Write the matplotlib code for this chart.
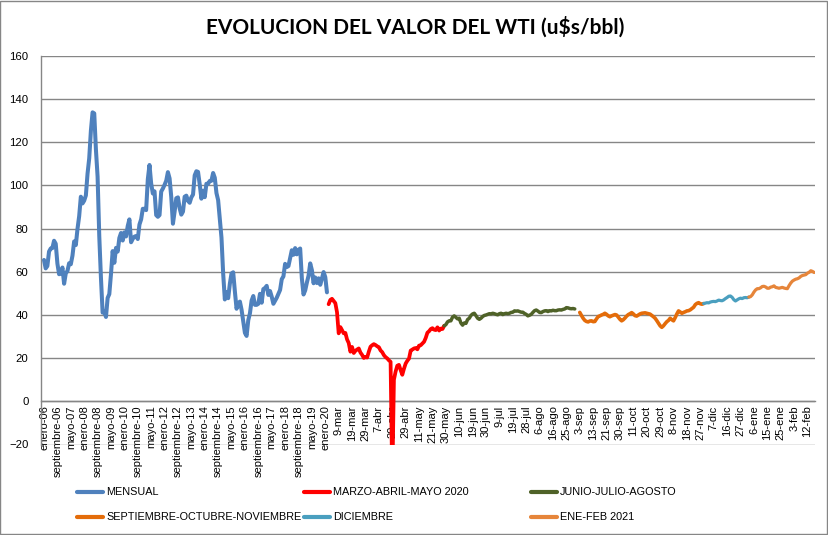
import matplotlib
matplotlib.use('Agg')
import matplotlib.pyplot as plt
from matplotlib.lines import Line2D
from matplotlib.patches import Rectangle
import numpy as np

# ---------------- DATA ----------------
title = "EVOLUCION DEL VALOR DEL WTI (u$s/bbl)"

# Monthly WTI (enero-06 .. febrero-20)
mensual = [
    65.5, 61.6, 62.7, 69.4, 70.8, 71.0, 74.4, 73.0, 63.8, 58.9, 59.1, 62.0,
    54.5, 59.3, 60.4, 64.0, 63.5, 67.5, 74.1, 72.4, 79.9, 85.8, 94.8, 91.7,
    93.0, 95.4, 105.5, 112.6, 125.4, 133.9, 133.4, 116.7, 104.1, 76.6, 57.3, 41.1,
    41.7, 39.1, 47.9, 49.7, 59.0, 69.6, 64.2, 71.1, 69.4, 75.7, 78.0, 74.5,
    78.3, 76.4, 81.2, 84.3, 73.7, 75.3, 76.3, 76.6, 75.2, 81.9, 84.3, 89.2,
    89.2, 88.6, 102.9, 109.5, 100.9, 96.3, 97.3, 86.3, 85.5, 86.3, 97.2, 98.6,
    100.3, 102.2, 106.2, 103.3, 94.7, 82.3, 87.9, 94.1, 94.5, 89.5, 86.5, 87.9,
    94.8, 95.3, 92.9, 92.0, 94.5, 95.8, 104.7, 106.6, 106.3, 100.5, 93.9, 97.6,
    94.6, 100.8, 100.8, 102.1, 102.2, 105.8, 103.6, 96.5, 93.2, 84.4, 75.8, 59.3,
    47.2, 50.6, 47.8, 54.5, 59.3, 59.8, 50.9, 42.9, 45.5, 46.2, 42.4, 37.2,
    31.7, 30.3, 37.6, 40.8, 46.7, 48.8, 44.7, 44.7, 45.2, 49.8, 45.7, 52.0,
    52.5, 53.5, 49.3, 51.1, 48.5, 45.2, 46.6, 48.0, 49.8, 51.6, 56.6, 57.9,
    63.7, 62.2, 62.7, 66.3, 70.0, 67.9, 71.0, 68.1, 70.2, 70.8, 57.0, 49.5,
    51.4, 55.0, 58.2, 63.9, 60.8, 54.7, 57.4, 54.8, 57.0, 54.0, 57.0, 59.9,
    57.5, 50.5,
]

marzo_abril_mayo = [
    45.0, 47.0, 47.5, 46.5, 45.5, 41.3, 31.5, 34.4, 33.0, 31.5,
    31.7, 28.7, 27.0, 23.0, 25.2, 22.4, 23.4, 24.0, 24.5, 22.6,
    21.5, 20.1, 20.5, 20.3, 23.0, 25.3, 26.0, 26.5, 26.1, 25.5,
    25.1, 23.6, 22.8, 21.4, 20.5, 19.9, 19.0, 18.3, -37.6, 10.0,
    13.8, 16.5, 16.9, 14.5, 12.3, 15.1, 17.5, 18.8, 19.8, 23.5,
    24.0, 24.5, 24.7, 24.1, 25.8, 26.0, 26.8, 27.6, 29.4, 31.8,
    32.5, 33.5, 33.9, 33.2, 33.0, 34.3, 32.8, 33.7, 33.5, 35.0,
]

junio_julio_agosto = [
    35.0, 35.5, 36.8, 37.3, 37.3, 39.0, 39.6, 38.9, 38.2, 38.5,
    36.3, 35.3, 36.3, 36.1, 37.9, 38.5, 39.8, 40.5, 40.8, 39.7,
    38.5, 38.0, 38.5, 39.3, 39.8, 40.0, 40.3, 40.6, 40.5, 40.8,
    40.6, 40.3, 40.1, 40.6, 40.8, 40.2, 40.6, 40.8, 40.6, 40.8,
    41.2, 41.3, 41.9, 41.8, 41.9, 41.6, 41.3, 41.3, 40.7, 40.3,
    39.6, 39.9, 40.3, 41.2, 42.0, 42.3, 41.8, 41.2, 41.1, 41.6,
    41.9, 42.0, 41.6, 42.0, 41.9, 42.2, 42.0, 42.0, 42.3, 42.4,
    42.3, 42.6, 42.8, 43.4, 43.3, 43.0, 42.9, 43.0, 42.8,
]

sep_oct_nov = [
    41.2, 39.8, 38.5, 37.5, 37.0, 36.8, 37.2, 37.3, 36.9, 37.0,
    38.2, 39.3, 39.6, 40.0, 40.3, 40.8, 40.3, 39.6, 39.2, 39.6,
    39.9, 40.2, 40.0, 39.0, 38.0, 37.3, 37.8, 38.6, 39.5, 40.2,
    40.6, 41.1, 40.5, 39.7, 39.5, 40.0, 40.5, 40.8, 40.9, 41.0,
    40.8, 40.6, 40.4, 39.8, 39.2, 38.5, 37.4, 36.2, 35.0, 34.3,
    35.0, 36.0, 36.9, 37.5, 38.5, 37.8, 37.3, 38.8, 40.5, 41.9,
    41.4, 40.8, 41.2, 41.5, 41.9, 42.0, 42.4, 43.0, 43.6, 44.8,
    45.4, 45.7, 45.2, 45.0, 45.3,
]

diciembre = [
    45.3, 45.5, 45.7, 45.6, 46.0, 46.2, 46.3, 46.2, 46.5, 46.9,
    46.7, 46.6, 47.0, 47.6, 48.1, 48.7, 48.8, 48.2, 47.1, 46.5,
    47.0, 47.5, 47.8, 47.6, 48.0, 48.1, 48.0, 48.3,
]

ene_feb_2021 = [
    48.3, 48.5, 49.3, 50.6, 51.6, 52.2, 52.2, 52.6, 53.2, 53.3,
    53.0, 52.4, 52.4, 52.9, 53.1, 53.5, 52.8, 52.6, 52.4, 52.6,
    52.8, 52.5, 52.3, 52.2, 53.6, 54.8, 55.7, 56.2, 56.6, 56.8,
    57.2, 57.9, 58.3, 58.5, 58.7, 59.4, 59.8, 60.5, 60.2, 59.7,
]

# first category index of each series on the shared category axis
series_start = [0, 170, 239, 320, 394, 421]

series_names = ["MENSUAL", "MARZO-ABRIL-MAYO 2020", "JUNIO-JULIO-AGOSTO",
                "SEPTIEMBRE-OCTUBRE-NOVIEMBRE", "DICIEMBRE", "ENE-FEB 2021"]

# category labels shown (every 8th category)
tick_labels = [
    "enero-06", "septiembre-06", "mayo-07", "enero-08", "septiembre-08", "mayo-09",
    "enero-10", "septiembre-10", "mayo-11", "enero-12", "septiembre-12", "mayo-13",
    "enero-14", "septiembre-14", "mayo-15", "enero-16", "septiembre-16", "mayo-17",
    "enero-18", "septiembre-18", "mayo-19", "enero-20",
    "9-mar", "19-mar", "29-mar", "7-abr", "20-abr", "29-abr", "11-may", "21-may",
    "30-may", "10-jun", "19-jun", "30-jun", "9-jul", "19-jul", "28-jul", "6-ago",
    "16-ago", "25-ago", "3-sep", "13-sep", "21-sep", "30-sep", "11-oct", "20-oct",
    "29-oct", "8-nov", "18-nov", "27-nov", "7-dic", "16-dic", "27-dic", "6-ene",
    "15-ene", "25-ene", "3-feb", "12-feb",
]
label_every = 8

# ---------------- STYLE ----------------
colors = ["#4F81BD", "#FF0000", "#4F6228", "#E46C0A", "#4A9FBF", "#E6853A"]
widths = [2.9, 2.7, 2.5, 2.6, 2.3, 2.3]
FONT = "Liberation Sans"

W, H = 829, 535
fig = plt.figure(figsize=(W / 100, H / 100), dpi=100)
ax = fig.add_axes([41 / W, 1 - 444.5 / H, (815 - 41) / W, (444.5 - 56) / H])

all_series = [mensual, marzo_abril_mayo, junio_julio_agosto, sep_oct_nov, diciembre, ene_feb_2021]
for vals, start, col, lw in zip(all_series, series_start, colors, widths):
    x = start + np.arange(len(vals))
    ax.plot(x, vals, color=col, lw=lw, solid_joinstyle='round', solid_capstyle='round', zorder=3)

for s in ['top', 'right']:
    ax.spines[s].set_visible(False)
ax.spines['left'].set_color('#868686')
ax.spines['left'].set_linewidth(1.0)
ax.spines['bottom'].set_position(('data', 0))
ax.spines['bottom'].set_color('#868686')
ax.spines['bottom'].set_linewidth(1.0)

ax.set_ylim(-20, 160)
ax.set_yticks(np.arange(-20, 161, 20))
ax.set_xlim(-1.8, 460.5)
ax.set_xticks(np.arange(len(tick_labels)) * label_every)
ax.set_xticklabels(tick_labels, rotation=90, fontsize=8.0, family=FONT,
                   ha='center', va='top')
ax.set_axisbelow(True)
ax.grid(axis='y', color='#868686', lw=1.0)
ax.grid(axis='x', visible=False)

ax.tick_params(axis='x', length=0, pad=3)
ax.tick_params(axis='y', length=0, pad=9, labelsize=8.2)
for t in ax.get_yticklabels():
    t.set_family(FONT)

fig.text(415 / W, 1 - 27 / H, title, ha='center', va='center',
         fontsize=15, fontweight='bold', family='Lato')

# legend: 3 columns x 2 rows below the plot
col_x = [77, 304, 531]
row_y = [492, 517]
for k, (name, col) in enumerate(zip(series_names, colors)):
    c, r = k % 3, k // 3
    x0 = col_x[c]
    y0 = row_y[r]
    fig.add_artist(Line2D([x0 / W, (x0 + 26) / W], [1 - y0 / H, 1 - y0 / H],
                          color=col, lw=3.0, solid_capstyle='round'))
    fig.text((x0 + 29) / W, 1 - y0 / H, name, ha='left', va='center',
             fontsize=7.8, family=FONT)

fig.add_artist(Rectangle((0.5 / W, 1.5 / H), (W - 2) / W, (H - 2.5) / H,
                         transform=fig.transFigure, fill=False,
                         edgecolor='#868686', lw=1.0))

fig.savefig("out.png", dpi=100)
